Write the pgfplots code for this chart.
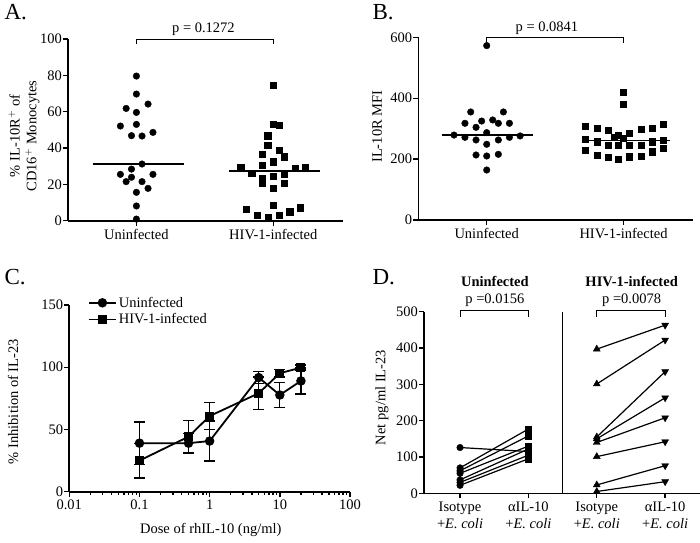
\documentclass[border=0pt]{standalone}
\usepackage{fontspec}
\setmainfont{Liberation Serif}
\usepackage{pgfplots}
\pgfplotsset{compat=1.18}
\newcommand\fs{\fontsize{14.5}{16.7}\selectfont}
\newcommand\fl{\fontsize{23}{25}\selectfont}
\pgfplotsset{
 gp/.style={
  scale only axis,
  anchor=south west,
  axis x line*=bottom, axis y line*=left,
  axis line style={line width=1.6pt, black},
  tick style={line width=1.4pt, black},
  tick align=outside,
  major tick length=5pt,
  minor tick length=3pt,
  /pgf/number format/assume math mode=true,
  tick label style={font=\fs, black},
  yticklabel style={inner sep=1pt},
  clip=false,
  every axis plot/.append style={black},
 }
}
\begin{document}
\begin{tikzpicture}
\useasboundingbox (0pt,0pt) rectangle (700pt,542pt);
% ---------------- Panel A
\begin{axis}[gp, at={(68pt,321.3pt)}, width=275pt, height=181.7pt,
  xmin=0.5, xmax=2.51, ymin=0, ymax=100, ytick={0,20,...,100},
  xtick={1,2}, xticklabels={Uninfected,HIV-1-infected}]
\addplot[only marks, mark=*, mark size=3.3pt] coordinates {
(1,79.6) (1,69.7) (0.925,61.8) (1.085,64.2) (1,59.6) (0.883,52.1) (1,53)
(0.964,46.8) (1.041,46.6) (1.121,48.6) (1.041,31.2) (0.964,28.4) (0.883,25.5)
(1.121,25.5) (0.925,21.5) (1.041,21.5) (0.964,23.9) (1,15.6) (1.085,17.8)
(1,8.1) (1,0.9)};
\addplot[only marks, mark=square*, mark size=3.1pt] coordinates {
(2,74.7) (2,53.2) (2.041,52.5) (1.959,46.8) (1.959,41.7) (1.92,36.5) (2.041,38.9)
(2.08,35.2) (2,32.5) (1.92,30.7) (1.762,29.4) (2.158,28.8) (2.235,29.4)
(1.842,26.1) (2.08,25.5) (2,24.6) (1.92,23.3) (2.08,20.6) (1.92,20.9) (2,17.8)
(2,8.6) (1.8,6.4) (2.2,7.2) (2.12,5) (1.883,3.1) (1.964,1.9) (2.041,3.1)};
\addplot[no marks, line width=1.4pt] coordinates {(0.68,31.2) (1.35,31.2)};
\addplot[no marks, line width=1.4pt] coordinates {(1.68,27.3) (2.34,27.3)};
\addplot[no marks, line width=1pt] coordinates {(1,97) (1,100) (2,100) (2,97)};
\node[font=\fs] at (axis cs:1.49,105.5) {p = 0.1272};
\end{axis}
\node[font=\fl, anchor=base west] at (1pt,522pt) {A.};
\node[font=\fs, rotate=90, align=center] at (24pt,406pt) {\% IL-10R$^{+}$ of\\CD16$^{+}$ Monocytes};
% ---------------- Panel B
\begin{axis}[gp, at={(418.3pt,322pt)}, width=275pt, height=182.7pt,
  xmin=0.5, xmax=2.51, ymin=0, ymax=600, ytick={0,200,400,600},
  xtick={1,2}, xticklabels={Uninfected,HIV-1-infected}]
\addplot[only marks, mark=*, mark size=3.3pt] coordinates {
(1,572.7) (0.883,354.8) (1.122,354.8) (0.841,317.6) (0.963,325) (1.044,328.5)
(1.085,317.6) (1.166,317.6) (0.922,304.4) (0.761,279) (1,286.9) (1.244,276)
(0.841,271.5) (1.166,271.5) (0.922,262.8) (1.085,262.8) (1,248.6) (0.922,213.5)
(1,210.2) (1.085,215.7) (1,164.2)};
\addplot[only marks, mark=square*, mark size=3.1pt] coordinates {
(2,420) (2,380)
(1.72,309) (1.805,301) (1.885,296) (2.127,298) (2.207,301) (2.288,314)
(1.93,272) (1.963,279) (2.044,285) (2,268)
(1.72,265) (1.805,257) (1.885,246) (1.963,245) (2.044,245) (2.127,246) (2.207,257) (2.288,263)
(1.72,228) (1.805,214) (1.885,206) (1.963,200) (2.044,208) (2.127,210) (2.207,224) (2.288,236)};
\addplot[no marks, line width=1.4pt] coordinates {(0.67,279) (1.34,279)};
\addplot[no marks, line width=1.4pt] coordinates {(1.7,260.8) (2.34,260.8)};
\addplot[no marks, line width=1pt] coordinates {(1,580) (1,600) (2,600) (2,580)};
\node[font=\fs] at (axis cs:1.44,629.6) {p = 0.0841};
\end{axis}
\node[font=\fl, anchor=base west] at (369pt,522pt) {B.};
\node[font=\fs, rotate=90] at (377pt,415.3pt) {IL-10R MFI};
% ---------------- Panel C
\begin{axis}[gp, at={(69.3pt,50.3pt)}, width=280.7pt, height=186.7pt,
  xmode=log, xmin=0.01, xmax=100, ymin=0, ymax=150, ytick={0,50,100,150},
  xtick={0.01,0.1,1,10,100}, xticklabels={0.01,0.1,1,10,100},
  legend style={at={(axis description cs:0.066,1.055)}, anchor=north west,
    draw=none, fill=none, font=\fs, inner sep=0pt, row sep=1pt,
    nodes={inner sep=2pt}},
  legend cell align=left,
  legend image code/.code={\draw[mark repeat=2,mark phase=2] plot coordinates {(0pt,0pt) (13.5pt,0pt) (27pt,0pt)};}]
\addplot[line width=1.8pt, mark=*, mark size=3.8pt,
  error bars/.cd, y dir=both, y explicit,
  error bar style={line width=1.3pt},
  error mark options={rotate=90, mark size=5.5pt, line width=1.3pt}]
 table[x=x, y=y, y error=e] {
x y e
0.1 39 17
0.5 39 8
1 40.7 16
5 91.7 5
10 77.7 10
20 89 10.5
};
\addlegendentry{Uninfected}
\addplot[line width=1.8pt, mark=square*, mark size=3.6pt,
  error bars/.cd, y dir=both, y explicit,
  error bar style={line width=1.3pt},
  error mark options={rotate=90, mark size=5.5pt, line width=1.3pt}]
 table[x=x, y=y, y error=e] {
x y e
0.1 25 14
0.5 44.2 13
1 60.8 10.7
5 79.1 13
10 95.2 3
20 99.7 2
};
\addlegendentry{HIV-1-infected}
\end{axis}
\node[font=\fl, anchor=base west] at (1pt,258pt) {C.};
\node[font=\fs, rotate=90] at (13pt,140.3pt) {\% Inhibition of IL-23};
\node[font=\fs] at (210.8pt,12pt) {Dose of rhIL-10 (ng/ml)};
% ---------------- Panel D
\begin{axis}[gp, at={(424pt,48.7pt)}, width=276pt, height=181.6pt,
  xmin=0.473, xmax=4.51, ymin=0, ymax=500, ytick={0,100,...,500},
  xtick={1,2,3,4},
  xticklabels={{Isotype\\+\textit{E. coli}},{αIL-10\\+\textit{E. coli}},{Isotype\\+\textit{E. coli}},{αIL-10\\+\textit{E. coli}}},
  xticklabel style={align=center}]
\addplot[no marks, line width=1.6pt] coordinates {(2.5,0) (2.5,500)};
% uninfected pairs
\addplot[no marks, line width=1.2pt] coordinates {(1,126) (2,115)};
\addplot[no marks, line width=1.2pt] coordinates {(1,70) (2,177)};
\addplot[no marks, line width=1.2pt] coordinates {(1,62) (2,158)};
\addplot[no marks, line width=1.2pt] coordinates {(1,55) (2,130)};
\addplot[no marks, line width=1.2pt] coordinates {(1,37) (2,122)};
\addplot[no marks, line width=1.2pt] coordinates {(1,30) (2,105)};
\addplot[no marks, line width=1.2pt] coordinates {(1,22) (2,95)};
\addplot[only marks, mark=*, mark size=3.3pt] coordinates {(1,126) (1,70) (1,62) (1,55) (1,37) (1,30) (1,22)};
\addplot[only marks, mark=square*, mark size=3.1pt] coordinates {(2,115) (2,177) (2,158) (2,130) (2,122) (2,105) (2,95)};
% HIV pairs
\addplot[no marks, line width=1.2pt] coordinates {(3,397) (4,463)};
\addplot[no marks, line width=1.2pt] coordinates {(3,301) (4,422)};
\addplot[no marks, line width=1.2pt] coordinates {(3,155) (4,335)};
\addplot[no marks, line width=1.2pt] coordinates {(3,150) (4,263)};
\addplot[no marks, line width=1.2pt] coordinates {(3,140) (4,208)};
\addplot[no marks, line width=1.2pt] coordinates {(3,101) (4,142)};
\addplot[no marks, line width=1.2pt] coordinates {(3,23) (4,76)};
\addplot[no marks, line width=1.2pt] coordinates {(3,5) (4,32)};
\addplot[only marks, mark=triangle*, mark size=4pt] coordinates {(3,397) (3,301) (3,155) (3,150) (3,140) (3,101) (3,23) (3,5)};
\addplot[only marks, mark=triangle*, mark size=4pt, mark options={rotate=180}] coordinates {(4,463) (4,422) (4,335) (4,263) (4,208) (4,142) (4,76) (4,32)};
% brackets
\addplot[no marks, line width=1pt] coordinates {(1,486) (1,503) (2,503) (2,486)};
\addplot[no marks, line width=1pt] coordinates {(3,486) (3,503) (4,503) (4,486)};
\node[font=\fs] at (axis cs:1.51,532) {p =0.0156};
\node[font=\fs] at (axis cs:3.51,532) {p =0.0078};
\node[font=\fs\bfseries] at (axis cs:1.51,583) {Uninfected};
\node[font=\fs\bfseries] at (axis cs:3.51,583) {HIV-1-infected};
\end{axis}
\node[font=\fl, anchor=base west] at (369pt,258pt) {D.};
\node[font=\fs, rotate=90] at (382pt,144.5pt) {Net pg/ml IL-23};
\end{tikzpicture}
\end{document}
